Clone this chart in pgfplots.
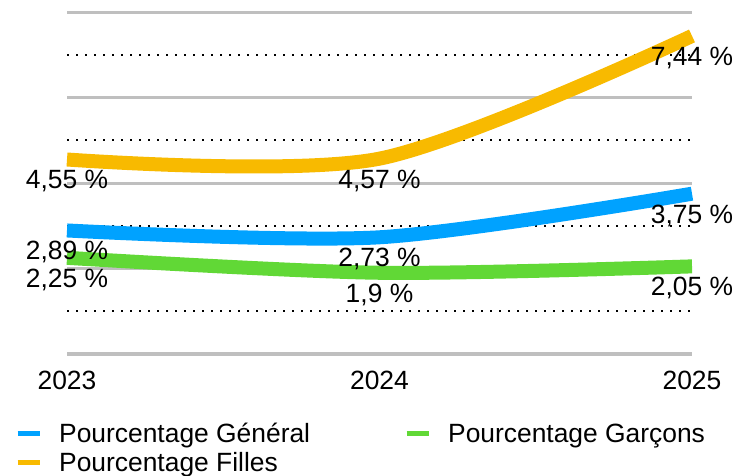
\documentclass[border=0pt]{standalone}
\usepackage{pgfplots}
\pgfplotsset{compat=1.18}
\usepackage{pgfplotstable}
\usepackage{fontspec}
\setmainfont{Liberation Sans}

\definecolor{cgen}{HTML}{00A2FF}
\definecolor{cgar}{HTML}{61D836}
\definecolor{cfil}{HTML}{F8BA00}
\definecolor{cgrid}{HTML}{BFBFBF}

\pgfplotstableread{
x y label
2023 2.89 {2,89 \%}
2024 2.73 {2,73 \%}
2025 3.75 {3,75 \%}
}\general
\pgfplotstableread{
x y label
2023 2.25 {2,25 \%}
2024 1.90 {1,9 \%}
2025 2.05 {2,05 \%}
}\garcons
\pgfplotstableread{
x y label
2023 4.55 {4,55 \%}
2024 4.57 {4,57 \%}
2025 7.44 {7,44 \%}
}\filles

\begin{document}
\begin{tikzpicture}
\path[use as bounding box] (0,0) rectangle (736bp,476bp);
\begin{axis}[
    at={(67bp,122bp)}, anchor=south west,
    scale only axis, width=625bp, height=342bp,
    xmin=2023, xmax=2025, ymin=0, ymax=8,
    clip=false,
    axis line style={draw=none},
    xtick={2023,2024,2025}, xticklabels={2023,2024,2025},
    ytick={0,2,4,6,8}, yticklabels={},
    minor ytick={1,3,5,7},
    major tick length=0pt, minor tick length=0pt,
    ymajorgrids, yminorgrids,
    major grid style={cgrid, line width=3bp},
    minor grid style={black, line width=2bp, dash pattern=on 2bp off 7bp},
    font=\fontsize{26.5}{30}\selectfont,
    xticklabel style={yshift=-14bp},
    legend columns=2,
    legend cell align=left,
    legend style={draw=none, fill=none, anchor=north west,
        at={(axis description cs:-0.088,-0.19)},
        font=\fontsize{26.5}{30}\selectfont,
        /tikz/row sep=4bp,
        /tikz/every odd column/.append style={column sep=15bp},
        /tikz/every even column/.append style={column sep=92bp}},
    legend image code/.code={\draw[#1, line width=5bp] (0bp,0bp) -- (22bp,0bp);},
    every node near coord/.append style={anchor=center, yshift=-22bp, black,
        font=\fontsize{26.5}{30}\selectfont},
]
\addplot[cgen, line width=14bp, smooth] table[x=x, y=y] {\general};
\addlegendentry{Pourcentage Général}
\addplot[cgar, line width=14bp, smooth] table[x=x, y=y] {\garcons};
\addlegendentry{Pourcentage Garçons}
\addplot[cfil, line width=14bp, smooth] table[x=x, y=y] {\filles};
\addlegendentry{Pourcentage Filles}

\addplot[draw=none, forget plot, nodes near coords, point meta=explicit symbolic]
    table[x=x, y=y, meta=label] {\general};
\addplot[draw=none, forget plot, nodes near coords, point meta=explicit symbolic]
    table[x=x, y=y, meta=label] {\garcons};
\addplot[draw=none, forget plot, nodes near coords, point meta=explicit symbolic]
    table[x=x, y=y, meta=label] {\filles};
\end{axis}
\end{tikzpicture}
\end{document}
